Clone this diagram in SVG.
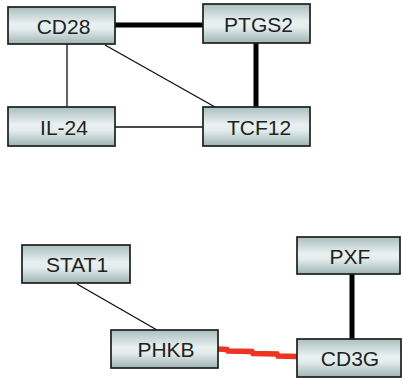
<svg xmlns="http://www.w3.org/2000/svg" width="403" height="378" viewBox="0 0 403 378">
  <defs>
    <linearGradient id="boxFill" x1="0" y1="0" x2="0" y2="1">
      <stop offset="0" stop-color="#a9bfbf"/>
      <stop offset="0.45" stop-color="#e9f0f0"/>
      <stop offset="0.6" stop-color="#e4ecec"/>
      <stop offset="1" stop-color="#9fb5b5"/>
    </linearGradient>
  </defs>
  <style>
    .box { fill: url(#boxFill); stroke: #1e1e1e; stroke-width: 1.7; }
    .lbl { font-family: "Liberation Sans", Arial, sans-serif; font-size: 21px; fill: #222; text-anchor: middle; }
    .thin { stroke: #0d0d0d; stroke-width: 1.3; fill: none; }
    .thick { stroke: #000; stroke-width: 5; fill: none; }
    .red { stroke: #ee3322; stroke-width: 5.5; fill: none; }
  </style>
  <rect width="403" height="378" fill="#ffffff"/>

  <!-- connectors -->
  <g id="edges">
    <line class="thick" x1="115" y1="25" x2="203" y2="25"/>
    <line class="thick" x1="256" y1="43" x2="256" y2="107"/>
    <line class="thin" x1="67" y1="44" x2="67" y2="107"/>
    <line class="thin" x1="115" y1="127" x2="203" y2="127"/>
    <line class="thin" x1="105" y1="45" x2="215" y2="107"/>
    <line class="thin" x1="77" y1="284" x2="157" y2="330"/>
    <line class="thick" x1="352" y1="274" x2="352" y2="339"/>
    <polyline class="red" points="218,349 227,349.5 228,351 252,351.5 253,353.5 277,354 278,356 297,356.5"/>
  </g>

  <g id="CD28">
    <rect class="box" x="8" y="7" width="107" height="37"/>
    <text class="lbl" x="63.5" y="34">CD28</text>
  </g>
  <g id="PTGS2">
    <rect class="box" x="203" y="4" width="107" height="39"/>
    <text class="lbl" x="258.5" y="32">PTGS2</text>
  </g>
  <g id="IL-24">
    <rect class="box" x="8" y="107" width="107" height="39"/>
    <text class="lbl" x="64" y="135">IL-24</text>
  </g>
  <g id="TCF12">
    <rect class="box" x="203" y="107" width="107" height="39"/>
    <text class="lbl" x="259" y="135">TCF12</text>
  </g>
  <g id="STAT1">
    <rect class="box" x="22" y="245" width="108" height="38"/>
    <text class="lbl" x="77" y="272">STAT1</text>
  </g>
  <g id="PXF">
    <rect class="box" x="297" y="237" width="103" height="37"/>
    <text class="lbl" x="350" y="264">PXF</text>
  </g>
  <g id="PHKB">
    <rect class="box" x="111" y="330" width="107" height="38"/>
    <text class="lbl" x="166" y="357">PHKB</text>
  </g>
  <g id="CD3G">
    <rect class="box" x="297" y="339" width="104" height="38"/>
    <text class="lbl" x="350" y="366">CD3G</text>
  </g>
</svg>
